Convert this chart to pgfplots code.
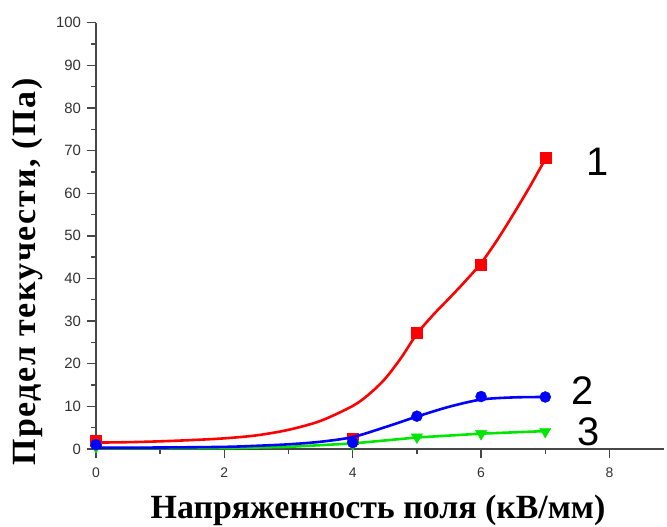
\documentclass[border=0pt]{standalone}
\usepackage{fontspec}
\setmainfont{Liberation Serif}
\newfontfamily\sansf{Liberation Sans}
\newfontfamily\spaced[LetterSpace=5]{Liberation Serif}
\usepackage{pgfplots}
\pgfplotsset{compat=1.18}
\definecolor{cred}{RGB}{255,0,0}
\definecolor{cblue}{RGB}{0,0,255}
\definecolor{cgreen}{RGB}{0,230,0}
\begin{document}
\begin{tikzpicture}
\useasboundingbox (-96bp,-78bp) rectangle (571bp,449bp);
\begin{axis}[
  at={(0,0)}, anchor=south west,
  scale only axis, width=568bp, height=426.3bp,
  xmin=0, xmax=8.85, ymin=0, ymax=100,
  axis x line*=bottom, axis y line*=left,
  axis line style={-, line width=1.6bp, color=black!72},
  xtick={0,2,4,6,8}, minor xtick={1,3,5,7},
  ytick={0,10,...,100}, minor ytick={5,15,...,95},
  tick align=outside, major tick length=9bp, minor tick length=5bp,
  every tick/.style={line width=1.4bp, color=black!72},
  yticklabel style={font=\sansf\fontsize{15}{17}\selectfont, text=black!80, xshift=-2.5bp},
  xticklabel style={font=\sansf\fontsize{14}{16}\selectfont, text=black!80, yshift=-6bp},
  /pgf/number format/assume math mode=true,
  clip mode=individual,
  xlabel={\bfseries Напряженность поля (кВ/мм)},
  ylabel={\bfseries\spaced Предел текучести, (Па)},
  xlabel style={at={(axis description cs:0.4965,-0.143)}, anchor=center, font=\fontsize{34}{36}\selectfont},
  ylabel style={at={(axis description cs:-0.12,0.415)}, anchor=center, font=\fontsize{34}{36}\selectfont},
]
% series 1 (red)
\addplot[cred, line width=2.6bp, smooth, tension=0.5, no markers] coordinates {
(0,1.5)(0.5,1.6)(1,1.8)(1.5,2.1)(2,2.5)(2.5,3.2)(3,4.5)(3.5,6.6)(4,10.1)(4.25,12.8)(4.5,16.4)(4.75,21.3)(5,27)(5.25,31.4)(5.5,35.3)(5.75,39.3)(6,43.6)(6.25,49)(6.5,55)(6.75,61.3)(7,68)};
\addplot[cred, only marks, mark=square*, mark size=5.5bp] coordinates {
(0,2)(4,2.5)(5,27.2)(6,43.2)(7,68.3)};
% series 3 (green)
\addplot[cgreen, line width=2.6bp, no markers] coordinates {
(0,0.2)(2,0.2)(3,0.5)(4,1.3)(5,2.7)(6,3.6)(7,4.2)};
\addplot[cgreen, only marks, mark=triangle*, mark size=6.5bp, mark options={rotate=180}] coordinates {
(0,0.5)(4,1.2)(5,2.8)(6,3.6)(7,4.1)};
% series 2 (blue)
\addplot[cblue, line width=2.6bp, smooth, tension=0.5, no markers] coordinates {
(0,0.3)(1,0.35)(2,0.5)(2.5,0.75)(3,1.1)(3.5,1.7)(4,2.8)(4.5,5.1)(5,7.6)(5.5,9.9)(6,11.6)(6.5,12.1)(7,12.2)};
\addplot[cblue, only marks, mark=*, mark size=5.5bp] coordinates {
(0,1)(4,1.5)(5,7.7)(6,12.3)(7,12.2)};
\node[inner sep=0pt, font=\sansf\fontsize{40}{42}\selectfont] at (axis cs:7.82,67.3) {1};
\node[inner sep=0pt, font=\sansf\fontsize{40}{42}\selectfont] at (axis cs:7.58,13.6) {2};
\node[inner sep=0pt, font=\sansf\fontsize{40}{42}\selectfont] at (axis cs:7.68,4.0) {3};
\end{axis}
\end{tikzpicture}
\end{document}
